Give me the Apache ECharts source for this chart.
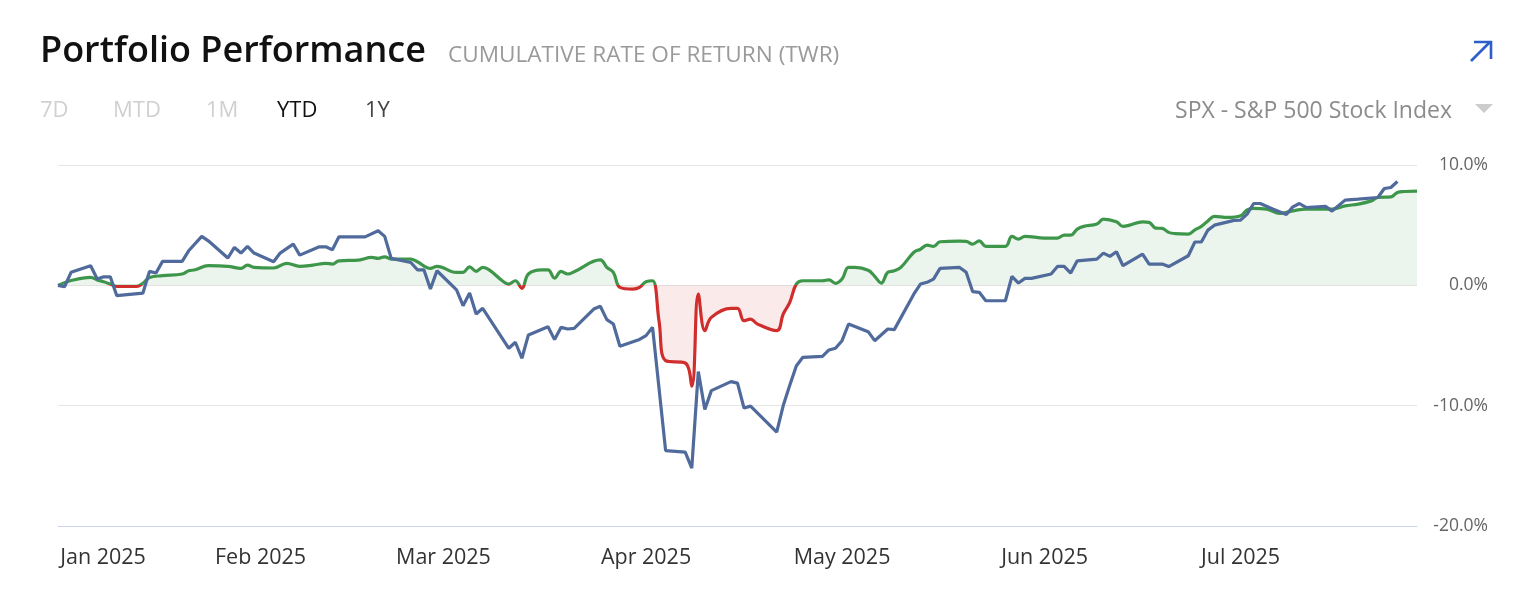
<!DOCTYPE html>
<html>
<head>
<meta charset="utf-8">
<script src="https://cdn.jsdelivr.net/npm/echarts@6/dist/echarts.min.js"></script>
<style>
html,body{margin:0;padding:0;background:#fff;}
#chart{width:1534px;height:616px;}
</style>
</head>
<body>
<div id="chart"></div>
<script>
// ---- Data ----
const monthNames = ['Jan','Feb','Mar','Apr','May','Jun','Jul','Aug','Sep','Oct','Nov','Dec'];
const yTicks = [-20, -10, 0, 10];
const rangeTabs = ['7D','MTD','1M','YTD','1Y'];
const benchmarkName = 'SPX - S&P 500 Stock Index';

// Benchmark (SPX) cumulative return, %
const benchDates = [
 '2025-01-01','2025-01-03','2025-01-06','2025-01-07','2025-01-08','2025-01-09','2025-01-10','2025-01-13','2025-01-14','2025-01-15',
 '2025-01-17','2025-01-20','2025-01-21','2025-01-22','2025-01-24','2025-01-27','2025-01-29','2025-01-30','2025-01-31',
 '2025-02-03','2025-02-05','2025-02-07','2025-02-09','2025-02-11','2025-02-12','2025-02-13','2025-02-16','2025-02-18','2025-02-19',
 '2025-02-20','2025-02-21','2025-02-24','2025-02-25','2025-02-27','2025-02-28',
 '2025-03-03','2025-03-04','2025-03-05','2025-03-06','2025-03-07','2025-03-08','2025-03-10','2025-03-11','2025-03-12','2025-03-13',
 '2025-03-14','2025-03-16','2025-03-17','2025-03-18','2025-03-19','2025-03-20','2025-03-21','2025-03-25','2025-03-26','2025-03-27',
 '2025-03-28','2025-03-30','2025-03-31',
 '2025-04-01','2025-04-02','2025-04-03','2025-04-04','2025-04-07','2025-04-08','2025-04-09','2025-04-10','2025-04-11','2025-04-14',
 '2025-04-15','2025-04-16','2025-04-17','2025-04-18','2025-04-21','2025-04-22','2025-04-23','2025-04-24','2025-04-25','2025-04-28',
 '2025-04-29','2025-04-30',
 '2025-05-01','2025-05-02','2025-05-03','2025-05-05','2025-05-06','2025-05-07','2025-05-08','2025-05-09','2025-05-10','2025-05-12',
 '2025-05-13','2025-05-14','2025-05-15','2025-05-16','2025-05-19','2025-05-20','2025-05-21','2025-05-22','2025-05-23','2025-05-26',
 '2025-05-27','2025-05-28','2025-05-29',
 '2025-06-01','2025-06-03','2025-06-04','2025-06-05','2025-06-06','2025-06-07','2025-06-09','2025-06-10','2025-06-12','2025-06-13',
 '2025-06-14','2025-06-16','2025-06-17','2025-06-18','2025-06-19','2025-06-20','2025-06-21','2025-06-23','2025-06-24','2025-06-25',
 '2025-06-26','2025-06-27','2025-06-29',
 '2025-07-01','2025-07-02','2025-07-03','2025-07-05','2025-07-07','2025-07-09','2025-07-11','2025-07-15','2025-07-17','2025-07-19',
 '2025-07-21','2025-07-22','2025-07-24','2025-07-25','2025-07-26','2025-07-28'
];
const benchValues = [
 0.0, 0.4, 0.66, 0.45, 0.3, 0.11, -0.08, -0.08, 0.17, 0.66,
 0.8, 0.94, 1.21, 1.29, 1.63, 1.58, 1.41, 1.68, 1.49,
 1.44, 1.83, 1.58, 1.68, 1.83, 1.77, 2.04, 2.1, 2.32, 2.24,
 2.37, 2.18, 2.18, 1.96, 1.41, 1.58,
 1.08, 1.08, 1.54, 1.16, 1.49, 1.29, 0.38, 0.1, 0.38, -0.25,
 0.94, 1.29, 1.29, 0.6, 1.16, 0.94, 1.13, 2.12, 1.49, 1.08,
 -0.17, -0.31, -0.17,
 0.3, 0.38, -3.0, -6.26, -6.45, -8.38, -0.72, -3.77, -2.66, -1.91,
 -1.91, -2.94, -2.8, -3.2, -3.77, -2.38, -1.41, 0.1, 0.38, 0.38,
 0.46, 0.17,
 0.52, 1.49, 1.49, 1.25, 0.75, 0.19, 1.08, 1.21, 1.49, 2.75,
 3.0, 3.34, 3.24, 3.62, 3.67, 3.65, 3.43, 3.7, 3.24, 3.24,
 4.07, 3.84, 4.07,
 3.93, 3.93, 4.17, 4.17, 4.67, 4.9, 5.09, 5.5, 5.28, 4.9,
 5.0, 5.28, 5.23, 4.76, 4.73, 4.4, 4.3, 4.26, 4.61, 4.9,
 5.35, 5.73, 5.64,
 5.78, 6.27, 6.39, 6.33, 5.98, 6.19, 6.33, 6.33, 6.6, 6.75,
 7.02, 7.3, 7.35, 7.72, 7.8, 7.83
];

// Portfolio cumulative return (TWR), %
const portDates = [
 '2025-01-01','2025-01-02','2025-01-03','2025-01-06','2025-01-07','2025-01-08','2025-01-09','2025-01-10','2025-01-14','2025-01-15',
 '2025-01-16','2025-01-17','2025-01-20','2025-01-21','2025-01-23','2025-01-24','2025-01-27','2025-01-28','2025-01-29','2025-01-30',
 '2025-01-31',
 '2025-02-03','2025-02-04','2025-02-06','2025-02-07','2025-02-10','2025-02-11','2025-02-12','2025-02-13','2025-02-17','2025-02-19',
 '2025-02-20','2025-02-21','2025-02-24','2025-02-25','2025-02-26','2025-02-27','2025-02-28',
 '2025-03-03','2025-03-04','2025-03-05','2025-03-06','2025-03-07','2025-03-11','2025-03-12','2025-03-13','2025-03-14','2025-03-17',
 '2025-03-18','2025-03-19','2025-03-20','2025-03-21','2025-03-24','2025-03-25','2025-03-26','2025-03-27','2025-03-28','2025-03-31',
 '2025-04-01','2025-04-02','2025-04-04','2025-04-07','2025-04-08','2025-04-09','2025-04-10','2025-04-11','2025-04-14','2025-04-15',
 '2025-04-16','2025-04-17','2025-04-21','2025-04-22','2025-04-23','2025-04-24','2025-04-25','2025-04-28','2025-04-29','2025-04-30',
 '2025-05-01','2025-05-02','2025-05-05','2025-05-06','2025-05-08','2025-05-09','2025-05-12','2025-05-13','2025-05-14','2025-05-15',
 '2025-05-16','2025-05-19','2025-05-20','2025-05-21','2025-05-22','2025-05-23','2025-05-26','2025-05-27','2025-05-28','2025-05-29',
 '2025-05-30',
 '2025-06-02','2025-06-03','2025-06-04','2025-06-05','2025-06-06','2025-06-09','2025-06-10','2025-06-11','2025-06-12','2025-06-13',
 '2025-06-16','2025-06-17','2025-06-19','2025-06-20','2025-06-23','2025-06-24','2025-06-25','2025-06-26','2025-06-27','2025-06-30',
 '2025-07-01','2025-07-02','2025-07-03','2025-07-04','2025-07-06','2025-07-08','2025-07-09','2025-07-10','2025-07-11','2025-07-14',
 '2025-07-15','2025-07-17','2025-07-19','2025-07-22','2025-07-23','2025-07-24','2025-07-25'
];
const portValues = [
 0.0, -0.12, 1.08, 1.63, 0.52, 0.71, 0.71, -0.86, -0.64, 1.16,
 1.02, 1.99, 1.99, 2.87, 4.07, 3.7, 2.27, 3.15, 2.68, 3.24,
 2.68,
 1.96, 2.68, 3.43, 2.51, 3.2, 3.2, 2.95, 4.03, 4.03, 4.53,
 4.07, 2.24, 1.9, 1.29, 1.29, -0.31, 1.21,
 -0.37, -1.69, -0.64, -2.38, -1.91, -5.23, -4.73, -6.06, -4.12, -3.44,
 -4.51, -3.49, -3.63, -3.57, -1.97, -1.74, -2.85, -3.21, -5.06, -4.5,
 -4.18, -3.49, -13.73, -13.86, -15.19, -7.17, -10.32, -8.75, -8.0, -8.13,
 -10.2, -10.04, -12.2, -9.99, -8.3, -6.7, -5.98, -5.9, -5.37, -5.23,
 -4.6, -3.21, -3.85, -4.6, -3.63, -3.68, -0.72, 0.11, 0.25, 0.52,
 1.41, 1.49, 1.08, -0.53, -0.58, -1.28, -1.28, 0.75, 0.19, 0.58,
 0.58,
 0.94, 1.58, 1.58, 1.02, 2.04, 2.18, 2.68, 2.41, 2.79, 1.63,
 2.6, 1.77, 1.77, 1.56, 2.46, 3.6, 3.6, 4.59, 5.0, 5.4,
 5.42, 5.92, 6.8, 6.8, 6.33, 5.89, 6.52, 6.8, 6.47, 6.56,
 6.17, 7.08, 7.16, 7.3, 8.05, 8.13, 8.63
];

// ---- Chart ----
const FONT = '"Open Sans", Lato, sans-serif';
const chart = echarts.init(document.getElementById('chart'), null, {renderer: 'canvas'});

const benchData = benchDates.map((d, i) => [d, benchValues[i]]);
const portData = portDates.map((d, i) => [d, portValues[i]]);

const tabColors = {'7D':'#d0d0d0','MTD':'#d0d0d0','1M':'#d0d0d0','YTD':'#111111','1Y':'#444444'};
const tabX = {'7D':40,'MTD':113,'1M':206,'YTD':277,'1Y':365};

function txt(text, x, y, size, color, weight, align) {
  return {type:'text', x: x, y: y, style:{text:text, fontSize:size, fontWeight:weight || 'normal', fontFamily:FONT,
    fill:color, align: align || 'left', verticalAlign:'middle'}};
}

const graphics = [
  txt('Portfolio Performance', 40, 52, 36, '#111111', 600),
  txt('CUMULATIVE RATE OF RETURN (TWR)', 448, 56, 22.6, '#9a9a9a', 'normal'),
  txt(benchmarkName, 1452, 111, 23, '#8c8c8c', 'normal', 'right'),
  {type:'polygon', shape:{points:[[1475,104],[1493,104],[1484,113]]}, style:{fill:'#cccccc'}},
  {type:'polyline', shape:{points:[[1471,61],[1490,42]]}, style:{stroke:'#2c5fc9', lineWidth:2.6, fill:null}},
  {type:'polyline', shape:{points:[[1474,42],[1491,42],[1491,59]]}, style:{stroke:'#2c5fc9', lineWidth:2.6, fill:null}}
];
rangeTabs.forEach(t => {
  graphics.push(txt(t, tabX[t], 111, 22, tabColors[t], 'normal'));
});

chart.setOption({
  animation: false,
  backgroundColor: '#ffffff',
  graphic: graphics,
  grid: {left: 58, right: 117, top: 165, bottom: 90, containLabel: false},
  xAxis: {
    type: 'time',
    min: '2025-01-01',
    max: '2025-07-28',
    splitNumber: 7,
    axisLine: {show: true, onZero: false, lineStyle: {color: '#ccd6eb', width: 1}},
    axisTick: {show: false},
    splitLine: {show: false},
    axisLabel: {
      color: '#333333',
      fontSize: 21.5,
      fontFamily: FONT,
      margin: 21,
      hideOverlap: false,
      rich: {
        first: {fontSize: 21.5, fontFamily: FONT, color: '#333333', padding: [0, 0, 0, 90]}
      },
      formatter: function (val) {
        const d = new Date(val);
        if (d.getDate() !== 1) return '';
        const s = monthNames[d.getMonth()] + ' ' + d.getFullYear();
        return d.getMonth() === 0 ? '{first|' + s + '}' : s;
      }
    }
  },
  yAxis: {
    type: 'value',
    position: 'right',
    min: yTicks[0],
    max: yTicks[yTicks.length - 1],
    interval: 10,
    axisLine: {show: false},
    axisTick: {show: false},
    splitLine: {lineStyle: {color: '#e6e6e6', width: 1}},
    axisLabel: {
      color: '#666666',
      fontSize: 17.5,
      fontFamily: FONT,
      align: 'right',
      margin: 71,
      formatter: v => v.toFixed(1) + '%'
    }
  },
  visualMap: {
    type: 'piecewise',
    show: false,
    seriesIndex: 0,
    dimension: 1,
    pieces: [
      {gte: -100, lt: 0, color: '#d02d2d'},
      {gte: 0, lte: 100, color: '#3e964b'}
    ],
    outOfRange: {color: '#3e964b'}
  },
  series: [
    {
      name: benchmarkName,
      type: 'line',
      data: benchData,
      smooth: 0.4,
      showSymbol: false,
      lineStyle: {width: 3.2},
      areaStyle: {opacity: 0.1, origin: 0},
      z: 2
    },
    {
      name: 'Portfolio',
      type: 'line',
      data: portData,
      smooth: false,
      showSymbol: false,
      lineStyle: {width: 3.2, color: '#4f6a9b'},
      itemStyle: {color: '#4f6a9b'},
      z: 3
    }
  ]
});
</script>
</body>
</html>
